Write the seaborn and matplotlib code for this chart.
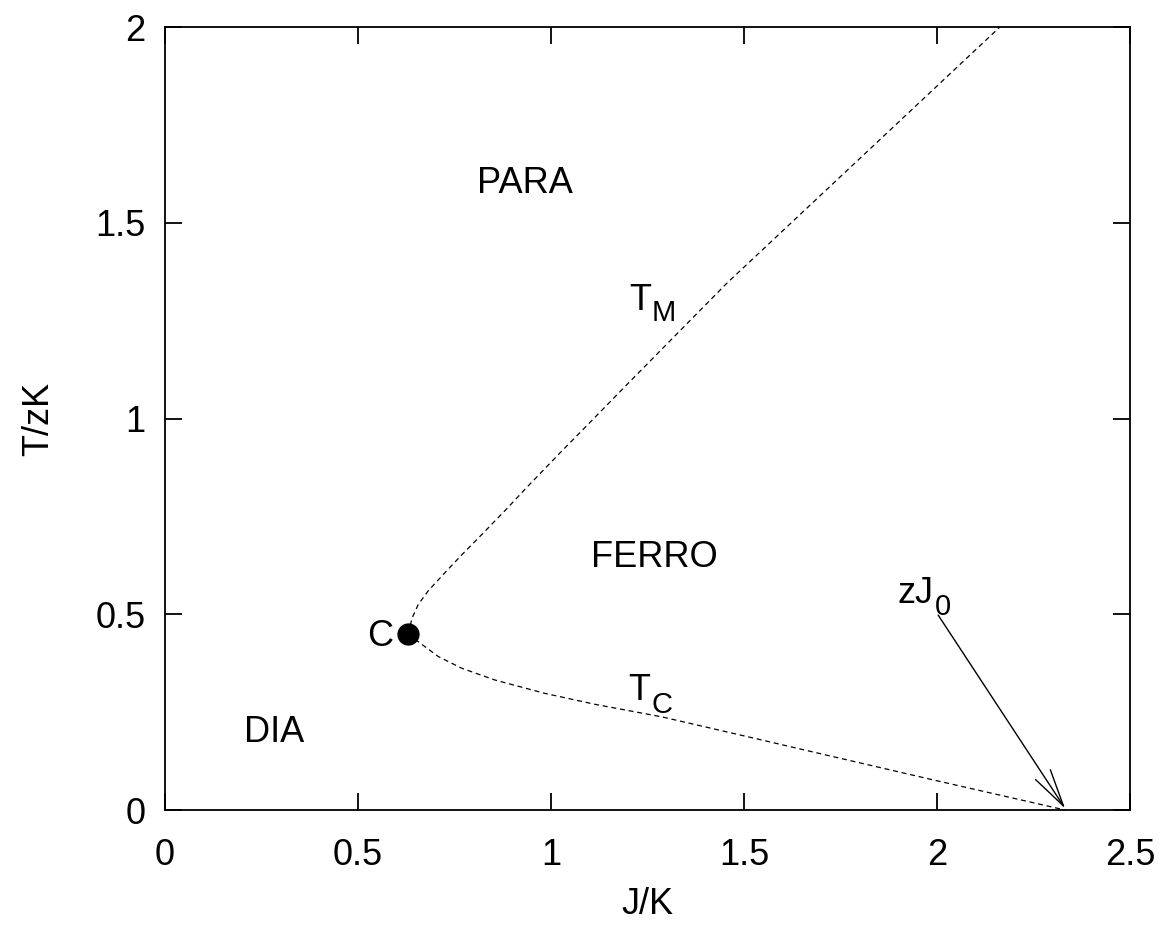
import matplotlib
matplotlib.use("Agg")
import matplotlib.pyplot as plt
import seaborn as sns
import pandas as pd

# Upper branch (T_M): from critical point C upward
tm_J = [0.630, 0.640, 0.656, 0.682, 0.725, 0.769, 0.820, 0.881, 0.941, 1.028, 1.092, 1.200, 1.455, 2.163]
tm_T = [0.450, 0.490, 0.525, 0.560, 0.606, 0.652, 0.703, 0.765, 0.828, 0.917, 0.981, 1.090, 1.345, 2.000]

# Lower branch (T_C): from critical point C down to zJ0
tc_J = [0.630, 0.656, 0.708, 0.769, 0.855, 0.984, 1.114, 1.287, 1.528, 1.645, 1.990, 2.332]
tc_T = [0.450, 0.430, 0.392, 0.362, 0.332, 0.298, 0.270, 0.238, 0.183, 0.156, 0.077, 0.000]

# Critical point
c_J = [0.630]
c_T = [0.450]

x_ticks = [0, 0.5, 1, 1.5, 2, 2.5]
x_ticklabels = ["0", "0.5", "1", "1.5", "2", "2.5"]
y_ticks = [0, 0.5, 1, 1.5, 2]
y_ticklabels = ["0", "0.5", "1", "1.5", "2"]

sns.set_theme(style="white")
plt.rcParams["font.family"] = ["Liberation Sans", "DejaVu Sans"]
for k in ["text.color", "axes.labelcolor", "xtick.color", "ytick.color", "axes.edgecolor"]:
    plt.rcParams[k] = "black"

fig = plt.figure(figsize=(11.63, 9.25), dpi=100)
ax = fig.add_axes([0.1419, 0.1243, 0.9716 - 0.1419, 0.9708 - 0.1243])

df_m = pd.DataFrame({"J": tm_J, "T": tm_T})
df_c = pd.DataFrame({"J": tc_J, "T": tc_T})
for d in (df_m, df_c):
    sns.lineplot(data=d, x="J", y="T", sort=False, estimator=None, ax=ax,
                 color="black", linewidth=0.9, linestyle=(0, (4, 3)))
sns.scatterplot(x=c_J, y=c_T, ax=ax, color="black", s=220, edgecolor="black", zorder=5)

fs = 26
sub = 21
ax.text(0.933, 1.60, "PARA", fontsize=fs, ha="center", va="center")
ax.text(1.269, 0.646, "FERRO", fontsize=fs, ha="center", va="center")
ax.text(0.282, 0.197, "DIA", fontsize=fs, ha="center", va="center")
ax.text(0.557, 0.444, "C", fontsize=fs, ha="center", va="center")

def label_with_sub(x, y, main, subtxt, dx_pt, dy_pt):
    ax.text(x, y, main, fontsize=fs, ha="left", va="baseline")
    ax.annotate(subtxt, xy=(x, y), xytext=(dx_pt, -dy_pt), textcoords="offset points",
                fontsize=sub, ha="left", va="baseline")

label_with_sub(1.202, 1.277, "T", "M", 16.6, 8)
label_with_sub(1.199, 0.281, "T", "C", 17.0, 9)
label_with_sub(1.899, 0.529, "zJ", "0", 26.5, 8.5)

ax.annotate("", xy=(2.332, 0.004), xytext=(2.003, 0.498),
            arrowprops=dict(arrowstyle="->,head_length=1.35,head_width=0.32",
                            color="black", lw=1.0, mutation_scale=20,
                            shrinkA=0, shrinkB=0))

ax.set_xlim(0, 2.5)
ax.set_ylim(0, 2)
ax.set_xticks(x_ticks)
ax.set_xticklabels(x_ticklabels)
ax.set_yticks(y_ticks)
ax.set_yticklabels(y_ticklabels)
ax.tick_params(axis="both", direction="in", length=12, width=1.3,
               top=True, right=True, bottom=True, left=True,
               labelsize=fs, color="black", labelcolor="black")
ax.tick_params(axis="x", pad=20)
ax.tick_params(axis="y", pad=14)
ax.set_xlabel("J/K", fontsize=fs, labelpad=10)
ax.set_ylabel("T/zK", fontsize=fs, labelpad=28)
for sp in ax.spines.values():
    sp.set_color("black")
    sp.set_linewidth(1.3)
ax.grid(False)

fig.savefig("out.png", dpi=100, facecolor="white")
